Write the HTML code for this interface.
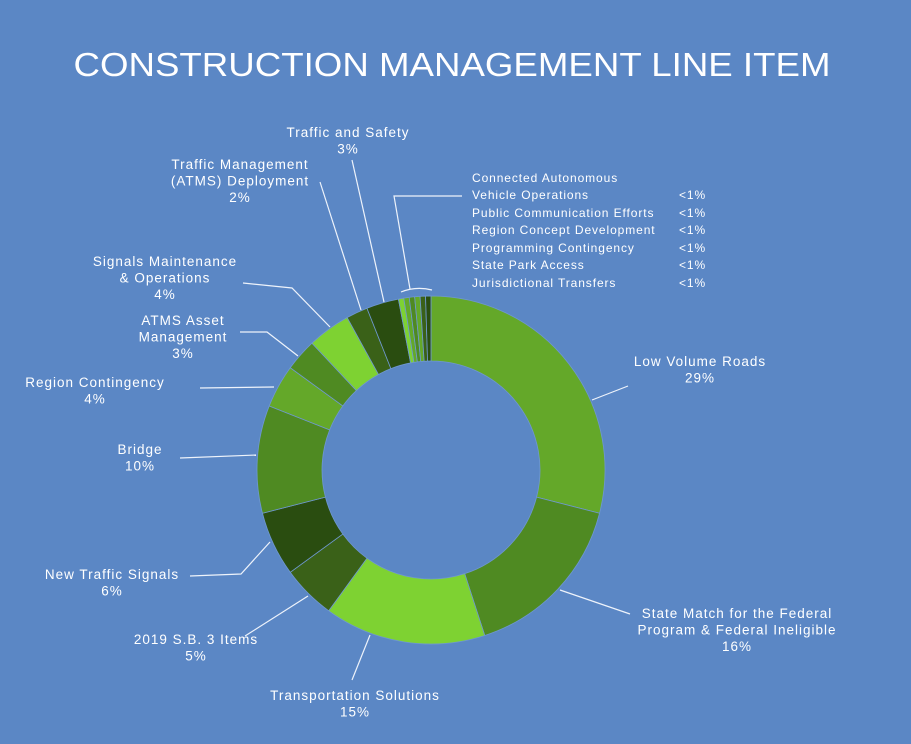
<!DOCTYPE html>
<html><head><meta charset="utf-8"><style>
html,body{margin:0;padding:0;background:#5b87c5;}
svg{display:block;font-family:"Liberation Sans",sans-serif;}
text{fill:#fff;}
</style></head><body>
<svg id="c" width="911" height="744" viewBox="0 0 911 744">
<rect width="911" height="744" fill="#5b87c5"/>
<text x="452" y="76" text-anchor="middle" font-size="33" textLength="757" lengthAdjust="spacingAndGlyphs">CONSTRUCTION MANAGEMENT LINE ITEM</text>
<g id="slices"></g>
<g id="leaders" stroke="#eef3fb" stroke-width="1.2" fill="none">
<polyline points="592,400 628,386"/>
<polyline points="560,590 630,614"/>
<polyline points="370,635 352,680"/>
<polyline points="308,596 245,636"/>
<polyline points="190,576 241,574 270,542"/>
<polyline points="180,458 256,455"/>
<polyline points="200,388 274,387"/>
<polyline points="240,332 267,332 298,356"/>
<polyline points="243,283 292,288 330,327"/>
<polyline points="320,182 361,310"/>
<polyline points="352,160 384,302"/>
<polyline points="462,196 394,196 410,289"/>
<path d="M401,292 Q416,286 432,290"/>
</g>
<g font-size="13.5" letter-spacing="1" text-anchor="middle">
<text x="700" y="366"><tspan x="700">Low Volume Roads</tspan><tspan x="700" dy="16.5">29%</tspan></text>
<text x="737" y="618"><tspan x="737">State Match for the Federal</tspan><tspan x="737" dy="16.5">Program &amp; Federal Ineligible</tspan><tspan x="737" dy="16.5">16%</tspan></text>
<text x="355" y="700"><tspan x="355">Transportation Solutions</tspan><tspan x="355" dy="16.5">15%</tspan></text>
<text x="196" y="644"><tspan x="196">2019 S.B. 3 Items</tspan><tspan x="196" dy="16.5">5%</tspan></text>
<text x="112" y="579"><tspan x="112">New Traffic Signals</tspan><tspan x="112" dy="16.5">6%</tspan></text>
<text x="140" y="454"><tspan x="140">Bridge</tspan><tspan x="140" dy="16.5">10%</tspan></text>
<text x="95" y="387"><tspan x="95">Region Contingency</tspan><tspan x="95" dy="16.5">4%</tspan></text>
<text x="183" y="325"><tspan x="183">ATMS Asset</tspan><tspan x="183" dy="16.5">Management</tspan><tspan x="183" dy="16.5">3%</tspan></text>
<text x="165" y="266"><tspan x="165">Signals Maintenance</tspan><tspan x="165" dy="16.5">&amp; Operations</tspan><tspan x="165" dy="16.5">4%</tspan></text>
<text x="240" y="169"><tspan x="240">Traffic Management</tspan><tspan x="240" dy="16.5">(ATMS) Deployment</tspan><tspan x="240" dy="16.5">2%</tspan></text>
<text x="348" y="137"><tspan x="348">Traffic and Safety</tspan><tspan x="348" dy="16.5">3%</tspan></text>
</g>
<g font-size="12" letter-spacing="0.9">
<text x="472" y="182">Connected Autonomous</text>
<text x="472" y="199">Vehicle Operations</text>
<text x="472" y="217">Public Communication Efforts</text>
<text x="472" y="234">Region Concept Development</text>
<text x="472" y="252">Programming Contingency</text>
<text x="472" y="269">State Park Access</text>
<text x="472" y="287">Jurisdictional Transfers</text>
<text x="679" y="199">&lt;1%</text>
<text x="679" y="217">&lt;1%</text>
<text x="679" y="234">&lt;1%</text>
<text x="679" y="252">&lt;1%</text>
<text x="679" y="269">&lt;1%</text>
<text x="679" y="287">&lt;1%</text>
</g>
</svg>
<script>
const categories = ["Low Volume Roads","State Match","Transportation Solutions","2019 S.B. 3 Items","New Traffic Signals","Bridge","Region Contingency","ATMS Asset Management","Signals Maintenance & Operations","Traffic Management (ATMS) Deployment","Traffic and Safety","Connected Autonomous Vehicle Operations","Public Communication Efforts","Region Concept Development","Programming Contingency","State Park Access","Jurisdictional Transfers"];
const values = [29,16,15,5,6,10,4,3,4,2,3,0.5,0.5,0.5,0.5,0.5,0.5];
const colors = ["#64a829","#4f8a22","#7ed232","#3a6118","#2a4d10","#4f8a22","#64a829","#4f8a22","#7ed232","#3a6118","#2a4d10","#7ed232","#64a829","#4f8a22","#64a829","#3a6118","#2a4d10"];
const cx=431, cy=470, R=174, r=109;
const total = values.reduce((a,b)=>a+b,0);
function angleOf(v){return v/total*Math.PI*2;}
function pt(rad,a){return [cx+rad*Math.sin(a), cy-rad*Math.cos(a)];}
const g=document.getElementById('slices');
let a0=0;
values.forEach((v,i)=>{
  const a1=a0+angleOf(v);
  const large=(a1-a0)>Math.PI?1:0;
  const p1=pt(R,a0),p2=pt(R,a1),p3=pt(r,a1),p4=pt(r,a0);
  const d=`M${p1[0]},${p1[1]} A${R},${R} 0 ${large} 1 ${p2[0]},${p2[1]} L${p3[0]},${p3[1]} A${r},${r} 0 ${large} 0 ${p4[0]},${p4[1]} Z`;
  const p=document.createElementNS('http://www.w3.org/2000/svg','path');
  p.setAttribute('d',d);
  p.setAttribute('fill',colors[i]);
  p.setAttribute('stroke','#6f98d0');
  p.setAttribute('stroke-width','0.8');
  
  
  g.appendChild(p);
  a0=a1;
});
</script>
</body></html>
